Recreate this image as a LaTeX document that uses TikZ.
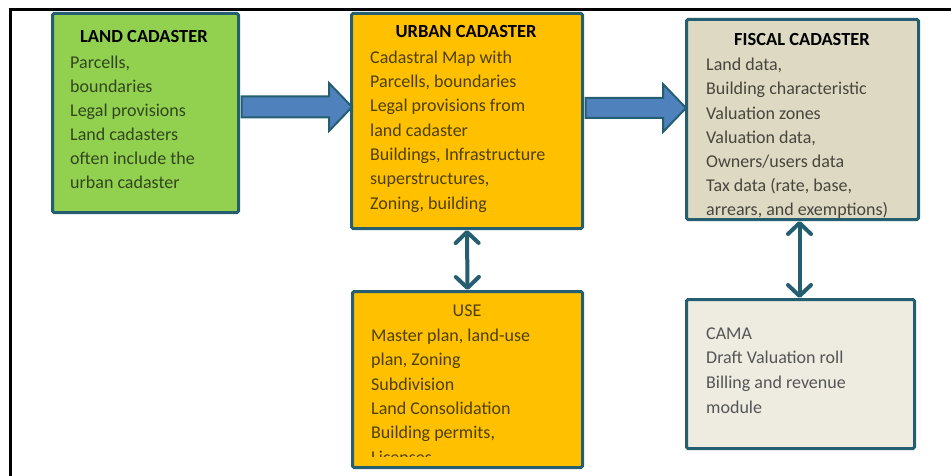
\documentclass[tikz,border=0pt]{standalone}
\usepackage{fontspec}
\setmainfont{Carlito}
\usetikzlibrary{arrows.meta,calc}
\definecolor{bordc}{RGB}{36,94,112}
\definecolor{landgreen}{RGB}{146,208,80}
\definecolor{urbanorange}{RGB}{255,192,0}
\definecolor{fiscalbeige}{RGB}{221,217,195}
\definecolor{camabeige}{RGB}{238,236,225}
\definecolor{arrblue}{RGB}{79,129,189}
\definecolor{landtxt}{RGB}{50,70,30}
\definecolor{urbantxt}{RGB}{78,64,0}
\definecolor{fiscaltxt}{RGB}{72,70,60}
\definecolor{camatxt}{RGB}{85,85,85}
\newcommand\fst{\rule{0pt}{17pt}}
\begin{document}
\begin{tikzpicture}[x=1pt,y=-1pt,
  box/.style={draw=bordc, line width=3pt, rounded corners=1.5pt, inner sep=0pt, anchor=north west},
  txt/.style={anchor=north west, align=left, inner sep=0pt},
  ttl/.style={anchor=base, inner sep=0pt, font=\fontsize{18.5}{24}\selectfont\bfseries},
  blockarrow/.style={fill=arrblue, draw=bordc, line width=2pt, line join=miter},
  dbl/.style={draw=bordc, line width=4pt, {Straight Barb[length=11pt,width=23pt,round]}-{Straight Barb[length=11pt,width=23pt,round]}}
]
\useasboundingbox (0,0) rectangle (951,476);
% frame
\draw[line width=3pt] (10,476) -- (10,10) -- (951,10);
% boxes
\node[box, fill=landgreen, minimum width=186pt, minimum height=199pt] (land) at (51,12) {};
\node[box, fill=urbanorange, minimum width=231pt, minimum height=215pt] (urban) at (350,12) {};
\node[box, fill=fiscalbeige, minimum width=232pt, minimum height=200pt] (fiscal) at (685,18) {};
\node[box, fill=urbanorange, minimum width=230pt, minimum height=176pt] (use) at (351,290) {};
\node[box, fill=camabeige, minimum width=228pt, minimum height=149pt] (cama) at (685,298) {};
% texts
\node[ttl] (landttl) at (144,43) {LAND CADASTER};
\node[txt, text=landtxt, font=\fontsize{18}{24}\selectfont] (landtxt) at (70,51)
  {\fst Parcells,\\ boundaries\\ Legal provisions\\ Land cadasters\\ often include the\\ urban cadaster};
\node[ttl] (urbanttl) at (466,38) {URBAN CADASTER};
\node[txt, text=urbantxt, font=\fontsize{18}{24.3}\selectfont] (urbantxt) at (370,46)
  {\fst Cadastral Map with\\ Parcells, boundaries\\ Legal provisions from\\ land cadaster\\ Buildings, Infrastructure\\ superstructures,\\ Zoning, building};
\node[ttl] (fiscalttl) at (802,46) {FISCAL CADASTER};
\node[txt, text=fiscaltxt, font=\fontsize{18}{24.05}\selectfont] (fiscaltxt) at (706,53.7)
  {\fst Land data,\\ Building characteristic\\ Valuation zones\\ Valuation data,\\ Owners/users data\\ Tax data (rate, base,\\ arrears, and exemptions)};
\begin{scope}
  \clip (352,292) rectangle (580,456);
  \node[ttl, font=\fontsize{18}{24}\selectfont, text=urbantxt] (usettl) at (467,316) {USE};
  \node[txt, text=urbantxt, font=\fontsize{18}{24.4}\selectfont] (usetxt) at (371,324)
    {\fst Master plan, land-use\\ plan, Zoning\\ Subdivision\\ Land Consolidation\\ Building permits,\\ Licenses};
\end{scope}
\node[txt, text=camatxt, font=\fontsize{18}{24.6}\selectfont] (camatxt) at (706,322)
  {\fst CAMA\\ Draft Valuation roll\\ Billing and revenue\\ module};
% block arrows
\path ([xshift=1.5pt]land.east |- 0,107) coordinate (a1s) ([xshift=2pt]urban.west |- 0,107) coordinate (a1e);
\draw[blockarrow] ($(a1s)+(0,-10.5)$) -- ($(a1e)+(-23,-10.5)$) -- ($(a1e)+(-23,-24)$) -- (a1e)
  -- ($(a1e)+(-23,24)$) -- ($(a1e)+(-23,10.5)$) -- ($(a1s)+(0,10.5)$) -- cycle;
\path ([xshift=1.5pt]urban.east |- 0,108) coordinate (a2s) ([xshift=1pt]fiscal.west |- 0,108) coordinate (a2e);
\draw[blockarrow] ($(a2s)+(0,-10)$) -- ($(a2e)+(-23,-10)$) -- ($(a2e)+(-23,-24)$) -- (a2e)
  -- ($(a2e)+(-23,24)$) -- ($(a2e)+(-23,10)$) -- ($(a2s)+(0,10)$) -- cycle;
% double arrows
\draw[dbl] (urban.south) -- (use.north);
\draw[dbl] ([xshift=-3pt]fiscal.south) -- ([xshift=-1pt]cama.north);
\end{tikzpicture}
\end{document}
